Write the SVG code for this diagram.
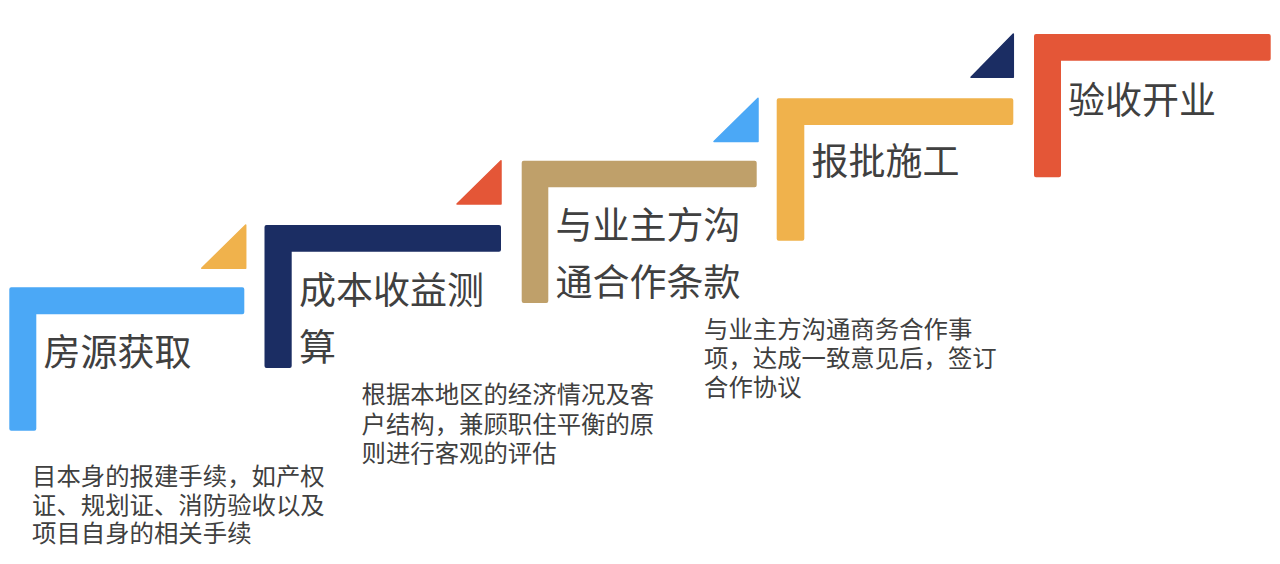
<svg xmlns="http://www.w3.org/2000/svg" width="1280" height="564" viewBox="0 0 1280 564">
<style>
.title{font-family:"Noto Sans CJK SC","Noto Sans",sans-serif;font-size:37px;fill:#404040;}
.desc{font-family:"Noto Sans CJK SC","Noto Sans",sans-serif;font-size:24.4px;fill:#404040;}
.blue{fill:#4BA8F6;}
.gold{fill:#F0B24C;}
.navy{fill:#1B2D63;}
.red{fill:#E45637;}
.tan{fill:#BFA06A;}
</style>
<rect width="1280" height="564" fill="#FFFFFF"/>
<g id="step1">
<path class="blue" d="M9.3,289.3 Q9.3,287.3 11.3,287.3 H242.3 Q244.3,287.3 244.3,289.3 V312.3 Q244.3,314.3 242.3,314.3 H36.3 V428.7 Q36.3,430.7 34.3,430.7 H11.3 Q9.3,430.7 9.3,428.7 Z"/>
<text class="title" x="43.5" y="365.5">房源获取</text>
<text class="desc" x="32" y="485">目本身的报建手续，如产权</text>
<text class="desc" x="32" y="514">证、规划证、消防验收以及</text>
<text class="desc" x="32" y="542">项目自身的相关手续</text>
</g>
<g id="tri1"><path class="gold" d="M245.7,225 V268.3 H201.7 Z" stroke="#F0B24C" stroke-width="1.5" stroke-linejoin="round"/></g>
<g id="step2">
<path class="navy" d="M264.5,227 Q264.5,225 266.5,225 H499 Q501,225 501,227 V249.7 Q501,251.7 499,251.7 H291.7 V366 Q291.7,368 289.7,368 H266.5 Q264.5,368 264.5,366 Z"/>
<text class="title" x="299" y="304">成本收益测</text>
<text class="title" x="299" y="360.5">算</text>
<text class="desc" x="361.5" y="403">根据本地区的经济情况及客</text>
<text class="desc" x="361.5" y="432.5">户结构，兼顾职住平衡的原</text>
<text class="desc" x="361.5" y="461.5">则进行客观的评估</text>
</g>
<g id="tri2"><path class="red" d="M501,160.7 V204 H457 Z" stroke="#E45637" stroke-width="1.5" stroke-linejoin="round"/></g>
<g id="step3">
<path class="tan" d="M521.7,162.7 Q521.7,160.7 523.7,160.7 H754.7 Q756.7,160.7 756.7,162.7 V185.3 Q756.7,187.3 754.7,187.3 H548.3 V301 Q548.3,303 546.3,303 H523.7 Q521.7,303 521.7,301 Z"/>
<text class="title" x="555.5" y="239">与业主方沟</text>
<text class="title" x="555.5" y="296">通合作条款</text>
<text class="desc" x="704" y="338">与业主方沟通商务合作事</text>
<text class="desc" x="704" y="367">项，达成一致意见后，签订</text>
<text class="desc" x="704" y="395.5">合作协议</text>
</g>
<g id="tri3"><path class="blue" d="M758,98.3 V141.5 H714 Z" stroke="#4BA8F6" stroke-width="1.5" stroke-linejoin="round"/></g>
<g id="step4">
<path class="gold" d="M776.7,100.3 Q776.7,98.3 778.7,98.3 H1011.3 Q1013.3,98.3 1013.3,100.3 V123 Q1013.3,125 1011.3,125 H804.3 V238.7 Q804.3,240.7 802.3,240.7 H778.7 Q776.7,240.7 776.7,238.7 Z"/>
<text class="title" x="811.5" y="175">报批施工</text>
</g>
<g id="tri4"><path class="navy" d="M1013.3,34 V77.3 H971 Z" stroke="#1B2D63" stroke-width="1.5" stroke-linejoin="round"/></g>
<g id="step5">
<path class="red" d="M1034,36 Q1034,34 1036,34 H1268.7 Q1270.7,34 1270.7,36 V58.7 Q1270.7,60.7 1268.7,60.7 H1061 V175.3 Q1061,177.3 1059,177.3 H1036 Q1034,177.3 1034,175.3 Z"/>
<text class="title" x="1068" y="114">验收开业</text>
</g>
<g id="connectors"></g>
</svg>
